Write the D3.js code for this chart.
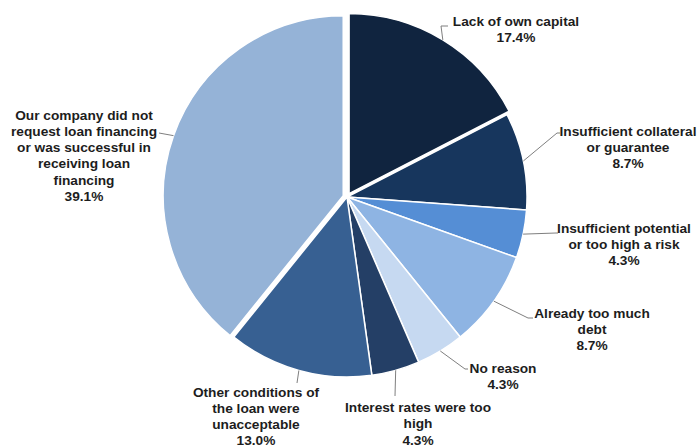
<!DOCTYPE html>
<html>
<head>
<meta charset="utf-8">
<script src="https://cdn.jsdelivr.net/npm/d3@7"></script>
<style>
  html, body { margin: 0; padding: 0; background: #ffffff; }
  svg { display: block; }
  .lbl { font-family: "Liberation Sans", Arial, sans-serif; font-weight: bold; font-size: 13.7px; fill: #1d1d1d; }
</style>
</head>
<body>
<svg id="chart" width="699" height="447"></svg>
<script>
// Reasons for not receiving loan financing (share of companies, %)
const categories = [
  "Lack of own capital",
  "Insufficient collateral or guarantee",
  "Insufficient potential or too high a risk",
  "Already too much debt",
  "No reason",
  "Interest rates were too high",
  "Other conditions of the loan were unacceptable",
  "Our company did not request loan financing or was successful in receiving loan financing"
];
const values = [17.4, 8.7, 4.3, 8.7, 4.3, 4.3, 13.0, 39.1];
const labelLines = [
  ["Lack of own capital"],
  ["Insufficient collateral", "or guarantee"],
  ["Insufficient potential", "or too high a risk"],
  ["Already too much", "debt"],
  ["No reason"],
  ["Interest rates were too", "high"],
  ["Other conditions of", "the loan were", "unacceptable"],
  ["Our company did not", "request loan financing", "or was successful in", "receiving loan", "financing"]
];
const sliceColors = ["#10243f", "#17365d", "#558ed5", "#8eb4e3", "#c6d9f1", "#243f66", "#376092", "#95b3d7"];
const pulledOut = [true, false, false, false, false, false, false, true];

// Label placement: text centre x, first line centre y, leader bend points
const labelLayout = [
  { x: 516, y: 21, bend: [[441, 26], [448, 26]] },
  { x: 628, y: 131, bend: [[557, 133], [560, 133]] },
  { x: 624, y: 228, bend: [[556, 233], [558, 233]] },
  { x: 592, y: 313, bend: [[528, 318], [533, 318]] },
  { x: 503, y: 368, bend: [[465, 369], [468, 369]] },
  { x: 418, y: 407.5, bend: [[395, 396]] },
  { x: 256, y: 392, bend: [[297, 383]] },
  { x: 84, y: 115, bend: [[159, 133]] }
];

const cx = 347, cy = 197, radius = 180, pull = 4, lineH = 16.3;

const svg = d3.select("#chart");
const g = svg.append("g").attr("transform", `translate(${cx},${cy})`);

const pie = d3.pie().sort(null).value(d => d);
const arcs = pie(values);
const arc = d3.arc().innerRadius(0).outerRadius(radius);

function offset(d, i) {
  if (!pulledOut[i]) return [0, 0];
  const a = (d.startAngle + d.endAngle) / 2;
  return [Math.sin(a) * pull, -Math.cos(a) * pull];
}

g.selectAll("path.slice")
  .data(arcs)
  .join("path")
  .attr("class", "slice")
  .attr("d", arc)
  .attr("transform", (d, i) => `translate(${offset(d, i)})`)
  .attr("fill", (d, i) => sliceColors[i])
  .attr("stroke", "#ffffff")
  .attr("stroke-width", 1.5)
  .attr("stroke-linejoin", "round");

// Leader lines from the middle of each slice's outer edge
const line = d3.line();
arcs.forEach((d, i) => {
  const a = (d.startAngle + d.endAngle) / 2;
  const [ox, oy] = offset(d, i);
  const start = [cx + ox + Math.sin(a) * radius, cy + oy - Math.cos(a) * radius];
  svg.append("path")
    .attr("d", line([start, ...labelLayout[i].bend]))
    .attr("fill", "none")
    .attr("stroke", "#7f7f7f")
    .attr("stroke-width", 1);
});

// Labels: category lines followed by the value
arcs.forEach((d, i) => {
  const L = labelLayout[i];
  const lines = labelLines[i].concat([d3.format(".1f")(values[i]) + "%"]);
  const t = svg.append("text")
    .attr("class", "lbl")
    .attr("text-anchor", "middle");
  lines.forEach((s, k) => {
    t.append("tspan")
      .attr("x", L.x)
      .attr("y", L.y + k * lineH + 4.5)
      .text(s);
  });
});
</script>
</body>
</html>
